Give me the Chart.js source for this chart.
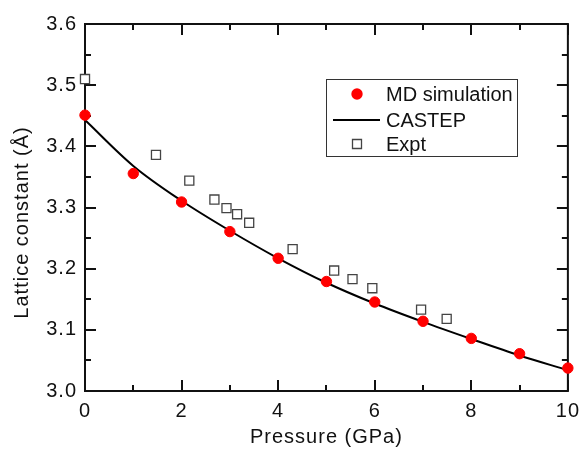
<!DOCTYPE html>
<html>
<head>
<meta charset="utf-8">
<script src="https://cdn.jsdelivr.net/npm/chart.js@4/dist/chart.umd.min.js"></script>
<style>
  html, body { margin: 0; padding: 0; background: #fff; }
  #wrap { width: 587px; height: 449px; position: relative; }
</style>
</head>
<body>
<div id="wrap"><canvas id="c" width="587" height="449"></canvas></div>
<script>
// ---- data ----
const mdPressure = [0, 1, 2, 3, 4, 5, 6, 7, 8, 9, 10];
const mdLattice = [3.451, 3.3555, 3.309, 3.2606, 3.217, 3.179, 3.1455, 3.114, 3.086, 3.061, 3.0375];

const castepPressure = [0, 1, 2, 3, 4, 5, 6, 7, 8, 9, 10];
const castepLattice = [3.443, 3.368, 3.311, 3.262, 3.217, 3.177, 3.143, 3.113, 3.085, 3.058, 3.034];

const exptPressure = [0, 1.47, 2.16, 2.68, 2.93, 3.15, 3.40, 4.30, 5.16, 5.54, 5.95, 6.96, 7.49];
const exptLattice = [3.510, 3.386, 3.344, 3.313, 3.299, 3.289, 3.275, 3.232, 3.197, 3.183, 3.168, 3.133, 3.118];

const xTickValues = [0, 2, 4, 6, 8, 10];
const yTickValues = [3.0, 3.1, 3.2, 3.3, 3.4, 3.5, 3.6];

const seriesNames = ['MD simulation', 'CASTEP', 'Expt'];
const xTitle = 'Pressure (GPa)';
const yTitle = 'Lattice constant (\u00C5)';

// ---- helpers ----
const toPoints = (xs, ys) => xs.map((x, i) => ({ x: x, y: ys[i] }));
const FONT = '"Liberation Sans", Arial, sans-serif';
const INK = '#111';

const decorPlugin = {
  id: 'decor',
  beforeDraw(chart) {
    chart.ctx.letterSpacing = '1px';
  },
  beforeDatasetsDraw(chart) {
    const ctx = chart.ctx;
    ctx.letterSpacing = '0px';
    const a = chart.chartArea;
    const xs = chart.scales.x, ys = chart.scales.y;
    ctx.save();
    ctx.strokeStyle = INK;
    ctx.lineWidth = 2;
    ctx.strokeRect(a.left, a.top, a.right - a.left, a.bottom - a.top);
    const major = 11, minor = 6;
    ctx.beginPath();
    // x ticks (inward, bottom and top)
    const xt = xs.ticks.map(t => t.value);
    const xAll = [];
    xt.forEach((v, i) => {
      xAll.push([v, major]);
      if (i < xt.length - 1) xAll.push([(v + xt[i + 1]) / 2, minor]);
    });
    xAll.forEach(([v, len]) => {
      const p = Math.round(xs.getPixelForValue(v));
      ctx.moveTo(p, a.bottom); ctx.lineTo(p, a.bottom - len);
      ctx.moveTo(p, a.top); ctx.lineTo(p, a.top + len);
    });
    const yt = ys.ticks.map(t => t.value);
    const yAll = [];
    yt.forEach((v, i) => {
      yAll.push([v, major]);
      if (i < yt.length - 1) yAll.push([(v + yt[i + 1]) / 2, minor]);
    });
    yAll.forEach(([v, len]) => {
      const p = Math.round(ys.getPixelForValue(v));
      ctx.moveTo(a.left, p); ctx.lineTo(a.left + len, p);
      ctx.moveTo(a.right, p); ctx.lineTo(a.right - len, p);
    });
    ctx.stroke();

    // y axis title
    ctx.letterSpacing = '1px';
    ctx.fillStyle = INK;
    ctx.font = '20px ' + FONT;
    ctx.textAlign = 'center';
    ctx.textBaseline = 'middle';
    ctx.translate(22, (a.top + a.bottom) / 2 + 15);
    ctx.rotate(-Math.PI / 2);
    ctx.fillText(yTitle, 0, 0);
    ctx.restore();
    ctx.letterSpacing = '0px';
  },
  afterDraw(chart) {
    const ctx = chart.ctx;
    const a = chart.chartArea;
    ctx.save();
    ctx.letterSpacing = '0px';
    const bx = a.left + 241, by = a.top + 55, bw = 191, bh = 77;
    ctx.fillStyle = '#fff';
    ctx.fillRect(bx, by, bw, bh);
    ctx.strokeStyle = '#333';
    ctx.lineWidth = 1;
    ctx.strokeRect(bx + 0.5, by + 0.5, bw, bh);
    const rows = [by + 15, by + 41, by + 65];
    const mx = bx + 31;
    // MD marker
    ctx.fillStyle = '#ff0000';
    ctx.beginPath(); ctx.arc(mx, rows[0], 5.7, 0, Math.PI * 2); ctx.fill();
    // CASTEP line
    ctx.strokeStyle = '#000';
    ctx.lineWidth = 2;
    ctx.beginPath(); ctx.moveTo(bx + 7, rows[1]); ctx.lineTo(bx + 54, rows[1]); ctx.stroke();
    // Expt marker
    ctx.strokeStyle = '#444';
    ctx.lineWidth = 1.3;
    ctx.fillStyle = '#fff';
    ctx.beginPath(); ctx.rect(mx - 4.5, rows[2] - 4.5, 9, 9); ctx.fill(); ctx.stroke();
    // text
    ctx.fillStyle = INK;
    ctx.font = '20px ' + FONT;
    ctx.textAlign = 'left';
    ctx.textBaseline = 'middle';
    seriesNames.forEach((n, i) => ctx.fillText(n, bx + 60, rows[i] + 1));
    ctx.restore();
  }
};

new Chart(document.getElementById('c'), {
  type: 'scatter',
  data: {
    datasets: [
      {
        label: seriesNames[0],
        data: toPoints(mdPressure, mdLattice),
        pointStyle: 'circle',
        pointRadius: 5.2,
        pointBorderWidth: 1,
        pointBackgroundColor: '#ff0000',
        pointBorderColor: '#ff0000',
        showLine: false,
        clip: false
      },
      {
        label: seriesNames[1],
        data: toPoints(castepPressure, castepLattice),
        showLine: true,
        pointRadius: 0,
        borderColor: '#000',
        borderWidth: 2,
        cubicInterpolationMode: 'monotone',
        clip: false
      },
      {
        label: seriesNames[2],
        data: toPoints(exptPressure, exptLattice),
        pointStyle: 'rect',
        pointRadius: 6.4,
        pointBorderWidth: 1.3,
        pointBackgroundColor: '#fff',
        pointBorderColor: '#444',
        showLine: false,
        clip: false
      }
    ]
  },
  options: {
    responsive: false,
    animation: false,
    devicePixelRatio: 1,
    layout: { padding: { left: 0, right: 13, top: 24, bottom: 0 } },
    plugins: { legend: { display: false }, tooltip: { enabled: false } },
    scales: {
      x: {
        type: 'linear',
        min: 0, max: 10,
        afterBuildTicks: s => { s.ticks = xTickValues.map(v => ({ value: v })); },
        afterFit: s => { s.height = 58; },
        grid: { display: false, drawTicks: false },
        border: { display: false },
        ticks: { color: INK, font: { family: FONT, size: 20 }, padding: 8, maxRotation: 0 },
        title: { display: true, text: xTitle, color: INK, font: { family: FONT, size: 20, lineHeight: 1 }, padding: { top: 0, bottom: 2 } }
      },
      y: {
        type: 'linear',
        min: 3.0, max: 3.6,
        afterBuildTicks: s => { s.ticks = yTickValues.map(v => ({ value: v })); },
        afterFit: s => { s.width = 85; },
        grid: { display: false, drawTicks: false },
        border: { display: false },
        ticks: { color: INK, font: { family: FONT, size: 20 }, padding: 8, callback: v => Number(v).toFixed(1) }
      }
    }
  },
  plugins: [decorPlugin]
});
</script>
</body>
</html>
